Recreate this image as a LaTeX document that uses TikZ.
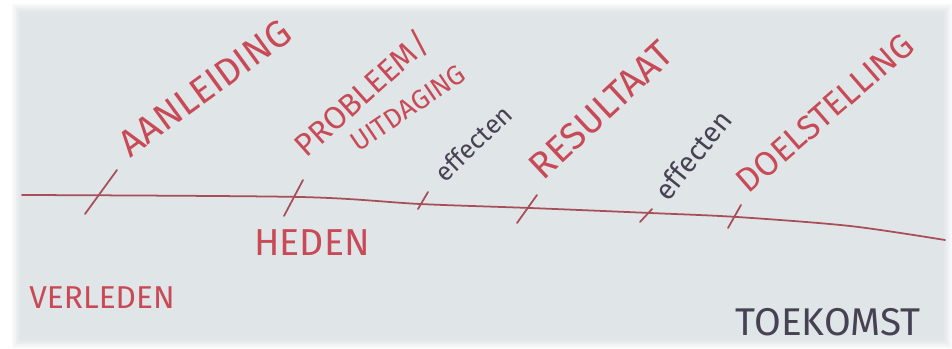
\documentclass[tikz,border=0pt]{standalone}
\usepackage{fontspec}
\setmainfont{Fira Sans}
\usetikzlibrary{positioning}
\definecolor{stift}{RGB}{200,74,86}
\definecolor{lijn}{RGB}{168,78,88}
\definecolor{inkt}{RGB}{70,66,84}
\definecolor{papier}{RGB}{224,229,232}

\begin{document}
\begin{tikzpicture}[x=0.03cm,y=-0.03cm,
  rood/.style={text=stift,inner sep=0pt,font=\fontsize{32}{34}\selectfont},
  zwart/.style={text=inkt,inner sep=0pt,font=\fontsize{22}{24}\selectfont},
  streep/.style={lijn,line width=1.5pt,line cap=round}]
% Papier
\useasboundingbox (0,0) rectangle (952,349);
\fill[white] (0,0) rectangle (952,349);
\foreach \r/\t in {8/25, 6/45, 4/65, 2/85} {
  \fill[papier!\t!white] (20-\r,12-\r) rectangle (944+\r,340+\r);
}
\fill[papier] (20,12) rectangle (944,340);

% Tijdlijn
\draw[streep] plot[smooth,tension=0.5] coordinates
  {(22,195) (300,197) (420,204) (530,208) (650,213) (737,217) (850,226) (945,240)};

% Streepjes op de lijn
\foreach \xa/\ya/\xb/\yb in {85/214/117/170, 284/216/303/180, 418/209/428/192,
    517/223/537/195, 640/222/652/209, 728/228/741/205} {
  \draw[streep] (\xa,\ya) -- (\xb,\yb);
}

% Fasen boven de lijn
\node[rood,rotate=36] (aanleiding) at (205,88) {AANLEIDING};
\node[rood,rotate=42,font=\fontsize{27}{29}\selectfont] (probleem) at (362,94) {PROBLEEM/};
\node[rood,rotate=34,font=\fontsize{23}{25}\selectfont] (uitdaging) at (408,108) {UITDAGING};
\node[zwart,rotate=44] (effecten1) at (473,143) {effecten};
\node[rood,rotate=43] (resultaat) at (601,110) {RESULTAAT};
\node[zwart,rotate=51,font=\fontsize{24}{26}\selectfont] (effecten2) at (693,155) {effecten};
\node[rood,rotate=41,font=\fontsize{29}{31}\selectfont] (doelstelling) at (825,113) {DOELSTELLING};

% Tijd onder de lijn
\node[rood] (heden) at (312,243) {HEDEN};
\node[rood,font=\fontsize{27}{29}\selectfont] (verleden) at (102,298) {VERLEDEN};
\node[rood,text=inkt,font=\fontsize{33}{35}\selectfont] (toekomst) at (828,322) {TOEKOMST};
\end{tikzpicture}
\end{document}
